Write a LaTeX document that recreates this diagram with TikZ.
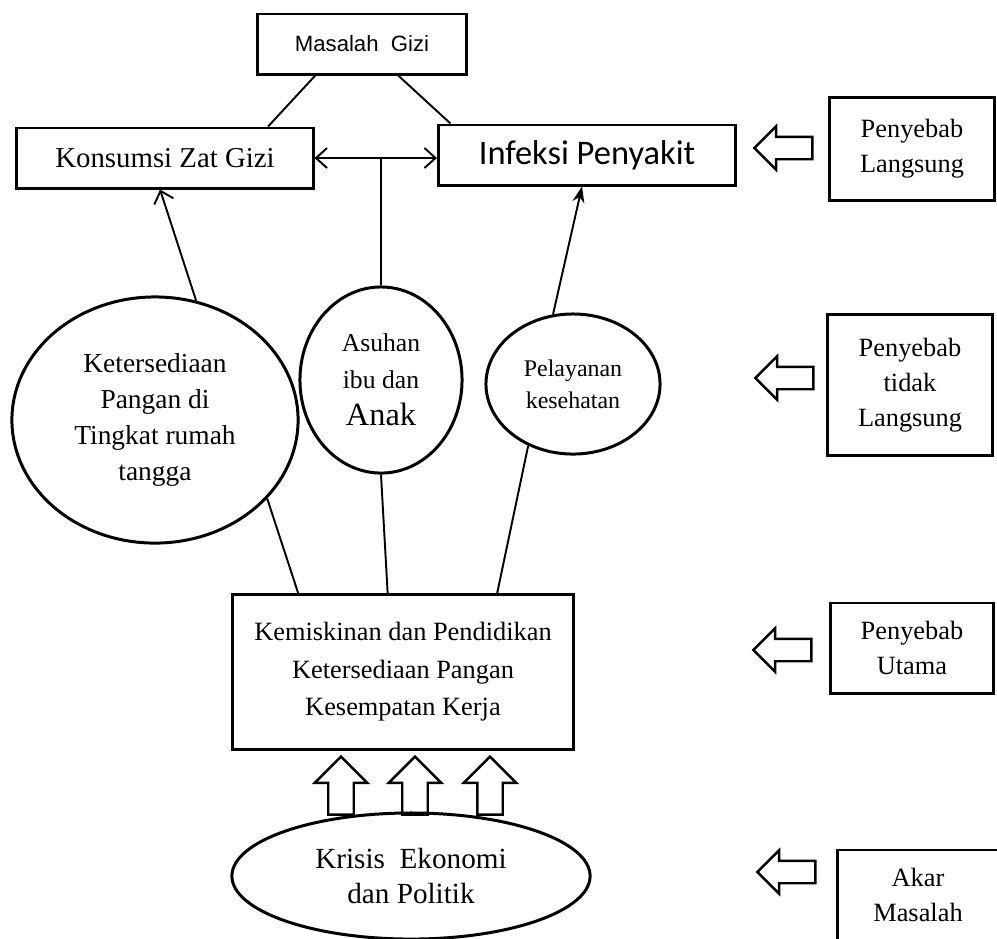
\documentclass[tikz,border=0pt]{standalone}
\usepackage{fontspec}
\setmainfont{Liberation Serif}
\newfontfamily\sansfont{Liberation Sans}
\newfontfamily\calibrifont{Carlito}
\usetikzlibrary{arrows.meta,shapes.geometric,shapes.arrows}

\tikzset{
  kotak/.style={draw, line width=0.85pt, rectangle, inner sep=0pt, align=center},
  lingkar/.style={draw, line width=0.85pt, ellipse, inner sep=0pt, align=center},
  panah/.style={single arrow, draw, line width=0.7pt, inner sep=0pt, minimum height=5.8mm,
    text width=#1, text height=0.5*#1, text depth=0.5*#1, single arrow head extend=1.05mm},
  panah/.default=2mm,
  garis/.style={line width=0.55pt},
  >={Straight Barb[length=1.1mm,width=2mm]}
}

\begin{document}
\begin{tikzpicture}[x=0.01cm, y=-0.01cm]
        \useasboundingbox (0,0) rectangle (997,938);
        \clip (0,0) rectangle (997,938);

        \node[kotak, minimum width=20.8mm, minimum height=6mm, font=\sansfont\fontsize{6.3}{8}\selectfont] (masalah) at (362,44) {Masalah\ \ Gizi};
        \node[kotak, minimum width=29.6mm, minimum height=6mm, font=\fontsize{8.2}{10}\selectfont] (konsumsi) at (165,158) {Konsumsi Zat Gizi};
        \node[kotak, minimum width=29.7mm, minimum height=6mm, font=\calibrifont\fontsize{9.8}{12}\selectfont] (infeksi) at (587,155) {Infeksi Penyakit};

        \node[lingkar, minimum width=28.6mm, minimum height=24.6mm, font=\fontsize{7.8}{10.3}\selectfont] (ket) at (155,420) {Ketersediaan\\Pangan di\\Tingkat rumah\\tangga};
        \node[lingkar, minimum width=16.2mm, minimum height=18.6mm, font=\fontsize{7.3}{10.5}\selectfont] (asuhan) at (381,380) {Asuhan\\ibu dan\\{\fontsize{9.2}{10.5}\selectfont Anak}};
        \node[lingkar, minimum width=17.4mm, minimum height=14mm, font=\fontsize{6.8}{9}\selectfont] (pel) at (573,384) {Pelayanan\\kesehatan};

        \node[kotak, minimum width=34mm, minimum height=15.5mm, font=\fontsize{7.5}{10.7}\selectfont] (kem) at (403,672) {Kemiskinan dan Pendidikan\\Ketersediaan Pangan\\Kesempatan Kerja};
        \node[lingkar, minimum width=35.8mm, minimum height=12.6mm, font=\fontsize{8.3}{10}\selectfont] (krisis) at (411,876) {Krisis\ \ Ekonomi\\dan Politik};

        \node[kotak, minimum width=16.5mm, minimum height=10.2mm, font=\fontsize{7.5}{10}\selectfont] (pl) at (912,149) {Penyebab\\Langsung};
        \node[kotak, minimum width=16.4mm, minimum height=14mm, font=\fontsize{7.5}{10}\selectfont] (ptl) at (910,385) {Penyebab\\tidak\\Langsung};
        \node[kotak, minimum width=16.2mm, minimum height=9mm, font=\fontsize{7.5}{10}\selectfont] (pu) at (912,648) {Penyebab\\Utama};
        \node[kotak, minimum width=16mm, minimum height=9mm, font=\fontsize{7.5}{10}\selectfont] (am) at (918,895) {Akar\\Masalah};

        \node[panah, shape border rotate=180] (kiri1) at (789,148) {};
        \node[panah, shape border rotate=180] (kiri2) at (790,378) {};
        \node[panah, shape border rotate=180] (kiri3) at (788,650) {};
        \node[panah, shape border rotate=180] (kiri4) at (792,872) {};

        \foreach \i/\x in {1/341, 2/415, 3/490}
            \node[panah=2.3mm, single arrow head extend=1.35mm, shape border rotate=90] (naik\i) at (\x,792) {};

        \draw[garis] (masalah.214) -- (konsumsi.17);
        \draw[garis] (masalah.-41) -- (infeksi.167);
        \draw[garis, <->] (konsumsi.east) -- (konsumsi.east -| infeksi.west);
        \draw[garis] (asuhan.north) -- (asuhan.north |- konsumsi.east);
        \draw[garis, ->] (ket.71) -- (konsumsi.-99);
        \draw[garis, -{Stealth[length=1.6mm]}] (pel.106) -- (infeksi.-99);
        \draw[garis] (ket.-35) -- (kem.143);
        \draw[garis] (asuhan.south) -- (kem.101);
        \draw[garis] (pel.-126) -- (kem.40);
    \end{tikzpicture}
\end{document}
